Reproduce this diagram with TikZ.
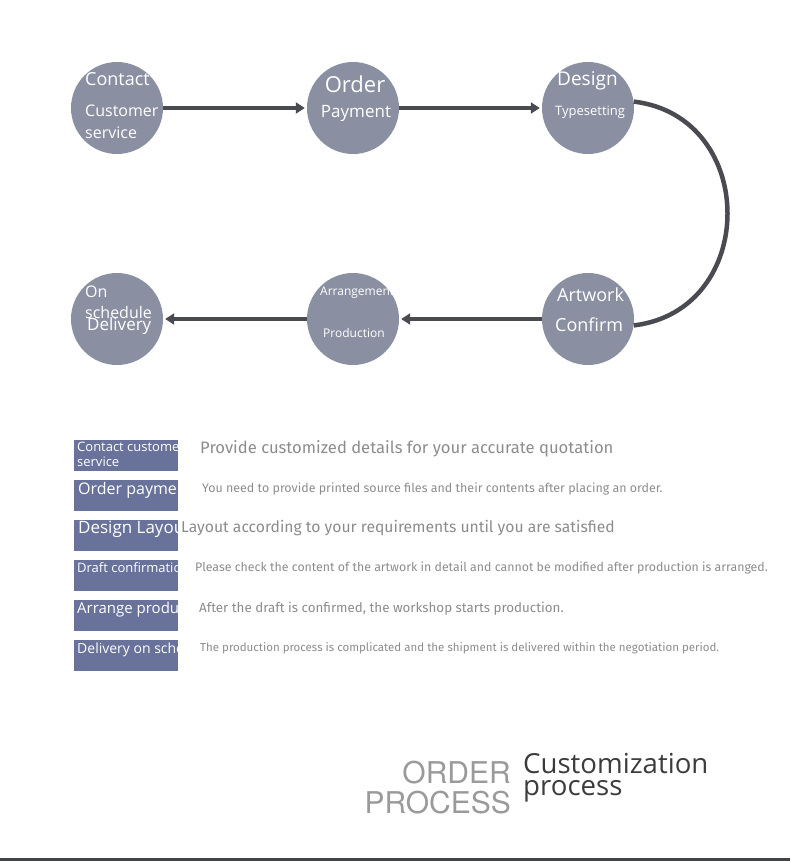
\documentclass[tikz,border=0pt]{standalone}
\usepackage{fontspec}
\setmainfont{Open Sans}
\newfontfamily\descfont{Fira Sans}
\newfontfamily\headfont{TeX Gyre Heros}
\usetikzlibrary{arrows.meta}
\definecolor{stagegray}{HTML}{8A90A2}
\definecolor{flowgray}{HTML}{4A4B50}
\definecolor{tagblue}{HTML}{68729B}
\definecolor{descgray}{HTML}{8C8C8C}
\definecolor{headgray}{HTML}{9A9A9A}
\definecolor{headdark}{HTML}{3C3C3C}
\tikzset{%
stage/.style={circle,fill=stagegray,minimum size=92pt,inner sep=0pt},
flow/.style={line width=4.5pt,draw=flowgray,-{Triangle[length=9pt,width=11pt]},shorten >=2pt},
loopline/.style={line width=4.5pt,draw=flowgray},
ctext/.style={text=white,anchor=base west,inner sep=0pt,font=\fontsize{#1}{#1}\selectfont},
tagbox/.style={fill=tagblue,minimum width=104pt,minimum height=31pt,inner sep=0pt},
desc/.style={text=descgray,anchor=base west,inner sep=0pt,font=\descfont\fontsize{#1}{#1}\selectfont},
}

\begin{document}
\begin{tikzpicture}[x=1pt,y=-1pt]
\useasboundingbox (0,0) rectangle (790,861);

% process circles
\node[stage] (contact) at (117,108) {};
\node[stage] (order) at (353,108) {};
\node[stage] (design) at (588,108) {};
\node[stage] (artwork) at (588,319) {};
\node[stage] (arrange) at (353,319) {};
\node[stage] (delivery) at (117,319) {};

\node[ctext=18] (contact-a) at (85,86) {Contact};
\node[ctext=16] (contact-b) at (85,117) {Customer};
\node[ctext=16] (contact-c) at (85,139) {service};
\node[ctext=22,anchor=base] (order-a) at (355,93) {Order};
\node[ctext=17,anchor=base] (order-b) at (356,118) {Payment};
\node[ctext=19] (design-a) at (557,86) {Design};
\node[ctext=13] (design-b) at (555,116) {Typesetting};
\node[ctext=18] (artwork-a) at (557,301) {Artwork};
\node[ctext=18] (artwork-b) at (555,331) {Confirm};
\node[ctext=12] (arrange-a) at (320,295) {Arrangement};
\node[ctext=12] (arrange-b) at (323,337) {Production};
\node[ctext=16] (delivery-a) at (85,297) {On};
\node[ctext=16] (delivery-b) at (85,318) {schedule};
\node[ctext=17] (delivery-c) at (87,330) {Delivery};

\draw[flow] (contact) -- (order);
\draw[flow] (order) -- (design);
\draw[loopline] (design.8) .. controls +(125,15) and +(125,-15) .. (artwork.-8);
\draw[flow] (artwork) -- (arrange);
\draw[flow] (arrange) -- (delivery);

% step list
\node[tagbox] (tag1) at (126,455) {};
\node[tagbox] (tag2) at (126,495) {};
\node[tagbox] (tag3) at (126,535) {};
\node[tagbox] (tag4) at (126,575) {};
\node[tagbox] (tag5) at (126,615) {};
\node[tagbox] (tag6) at (126,655) {};

\node[ctext=13] (tag1-a) at (77,451) {Contact customer};
\node[ctext=13] (tag1-b) at (77,466) {service};
\node[ctext=16] (tag2-a) at (78,494) {Order payment};
\node[ctext=17] (tag3-a) at (78,533) {Design Layout};
\node[ctext=13] (tag4-a) at (77,572) {Draft confirmation};
\node[ctext=15] (tag5-a) at (77,613) {Arrange production};
\node[ctext=14] (tag6-a) at (77,653) {Delivery on schedule};

\node[desc=16.6] (desc1) at (200,453) {Provide customized details for your accurate quotation};
\node[desc=12.45] (desc2) at (202,492) {You need to provide printed source files and their contents after placing an order.};
\node[desc=15.7] (desc3) at (181,532) {Layout according to your requirements until you are satisfied};
\node[desc=12.35] (desc4) at (195,571) {Please check the content of the artwork in detail and cannot be modified after production is arranged.};
\node[desc=13.35] (desc5) at (199,612) {After the draft is confirmed, the workshop starts production.};
\node[desc=11.5] (desc6) at (200,651) {The production process is complicated and the shipment is delivered within the negotiation period.};

% title
\node[text=headgray,anchor=base east,inner sep=0pt,font=\headfont\fontsize{30}{30}\selectfont] (title-a) at (511,783) {ORDER};
\node[text=headgray,anchor=base east,inner sep=0pt,font=\headfont\fontsize{30}{30}\selectfont] (title-b) at (511,813) {PROCESS};
\node[text=headdark,anchor=base west,inner sep=0pt,font=\fontsize{27.6}{27.6}\selectfont] (title-c) at (523,773) {Customization};
\node[text=headdark,anchor=base west,inner sep=0pt,font=\fontsize{27.6}{27.6}\selectfont] (title-d) at (523,795) {process};

% bottom strip
\fill[flowgray!90!black] (0,858) rectangle (790,861);
\end{tikzpicture}
\end{document}
